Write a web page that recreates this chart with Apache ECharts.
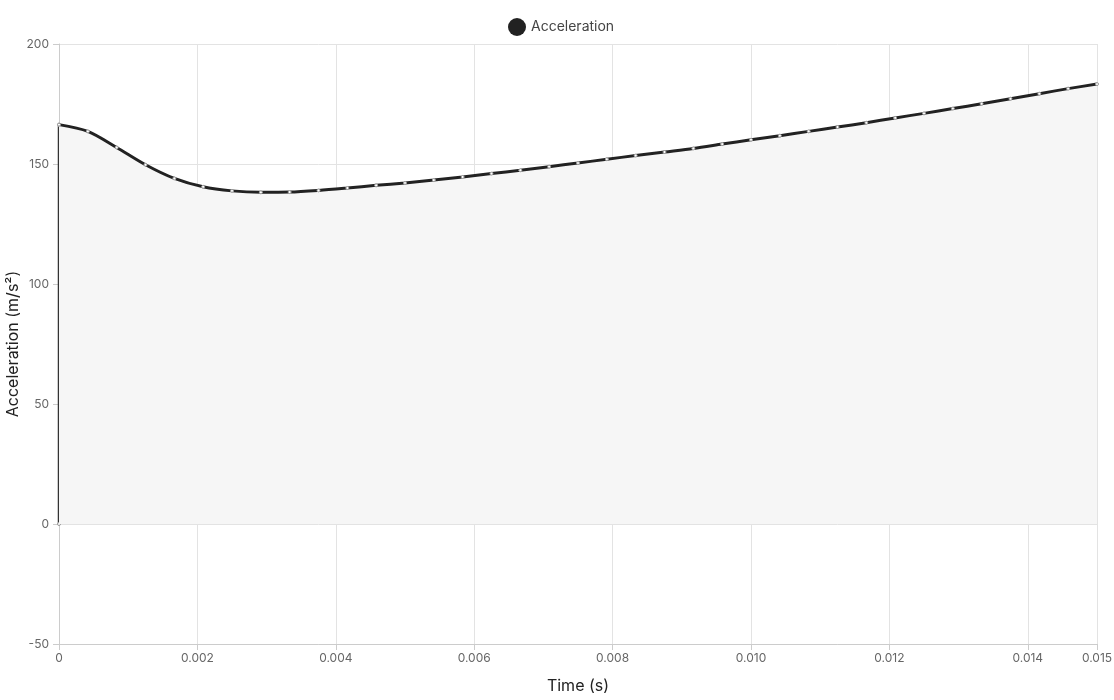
<!DOCTYPE html>
<html>
<head>
<meta charset="utf-8">
<title>Acceleration</title>
<script src="https://cdn.jsdelivr.net/npm/echarts@6/dist/echarts.min.js"></script>
<style>
  html, body { margin: 0; padding: 0; background: #fff; }
  #chart { width: 1114px; height: 700px; }
</style>
</head>
<body>
<div id="chart"></div>
<script>
// sample times (s), one every 0.015/36
const times = [
  0, 0.000417, 0.000833, 0.00125, 0.001667, 0.002083, 0.0025, 0.002917, 0.003333,
  0.00375, 0.004167, 0.004583, 0.005, 0.005417, 0.005833, 0.00625, 0.006667, 0.007083,
  0.0075, 0.007917, 0.008333, 0.00875, 0.009167, 0.009583, 0.01, 0.010417, 0.010833,
  0.01125, 0.011667, 0.012083, 0.0125, 0.012917, 0.013333, 0.01375, 0.014167, 0.014583, 0.015
];
// acceleration (m/s²)
const accel = [
  166.4, 163.6, 156.9, 149.7, 144.0, 140.5, 138.8, 138.2, 138.3,
  139.0, 140.0, 141.1, 142.1, 143.3, 144.6, 146.0, 147.4, 148.9,
  150.4, 152.0, 153.5, 155.0, 156.5, 158.3, 160.1, 161.8, 163.6,
  165.4, 167.2, 169.2, 171.1, 173.1, 175.1, 177.2, 179.3, 181.4, 183.3
];
// the curve starts from rest at t = 0
const startTime = 0;
const startAccel = 0;

const seriesName = "Acceleration";
const lineColor = "#222222";
const gridColor = "#e3e3e3";
const labelStyle = { color: "#666", fontSize: 12, fontFamily: "Inter" };

const chart = echarts.init(document.getElementById("chart"));

const curve = times.map((t, i) => [t, accel[i]]);
const jump = [[startTime, startAccel], [times[0], accel[0]]];

chart.setOption({
  animation: false,
  textStyle: { fontFamily: "Inter" },
  legend: {
    top: 13,
    left: 503,
    icon: "circle",
    itemWidth: 18,
    itemHeight: 18,
    itemGap: 6,
    textStyle: { color: "#444", fontSize: 14, fontFamily: "Inter" },
    itemStyle: { color: lineColor, borderWidth: 0 },
    data: [seriesName],
  },
  grid: { left: 59, right: 17, top: 44, bottom: 56, containLabel: false, outerBoundsMode: "none" },
  xAxis: {
    type: "value",
    min: 0,
    max: 0.015,
    interval: 0.002,
    name: "Time (s)",
    nameLocation: "middle",
    nameGap: 34,
    nameMoveOverlap: false,
    nameTextStyle: { color: "#222", fontSize: 16, fontFamily: "Inter" },
    axisLine: { show: true, onZero: false, lineStyle: { color: "#ccc" } },
    axisTick: { show: true, length: 6, lineStyle: { color: "#ccc" } },
    axisLabel: {
      ...labelStyle,
      margin: 8,
      showMaxLabel: true,
      formatter: (v) => (v === 0 ? "0" : v.toFixed(3)),
    },
    splitLine: { show: true, lineStyle: { color: gridColor } },
  },
  yAxis: {
    type: "value",
    min: -50,
    max: 200,
    interval: 50,
    name: "Acceleration (m/s²)",
    nameLocation: "middle",
    nameGap: 38,
    nameMoveOverlap: false,
    nameTextStyle: { color: "#222", fontSize: 16, fontFamily: "Inter" },
    axisLine: { show: true, onZero: false, lineStyle: { color: "#ccc" } },
    axisTick: { show: true, length: 6, lineStyle: { color: "#ccc" } },
    axisLabel: { ...labelStyle, margin: 10 },
    splitLine: { show: true, lineStyle: { color: gridColor } },
  },
  series: [
    {
      name: seriesName,
      type: "line",
      data: curve,
      smooth: 0.3,
      symbol: "circle",
      symbolSize: 3,
      showSymbol: true,
      lineStyle: { color: lineColor, width: 3 },
      itemStyle: { color: "#fff", borderColor: "#999", borderWidth: 1 },
      areaStyle: { color: "#f6f6f6", opacity: 1 },
      z: 3,
    },
    {
      name: seriesName,
      type: "line",
      data: jump,
      clip: false,
      symbol: "circle",
      symbolSize: 3,
      lineStyle: { color: "#333", width: 2.5 },
      itemStyle: { color: "#fff", borderColor: "#999", borderWidth: 1 },
      z: 2,
    },
  ],
});
</script>
</body>
</html>
